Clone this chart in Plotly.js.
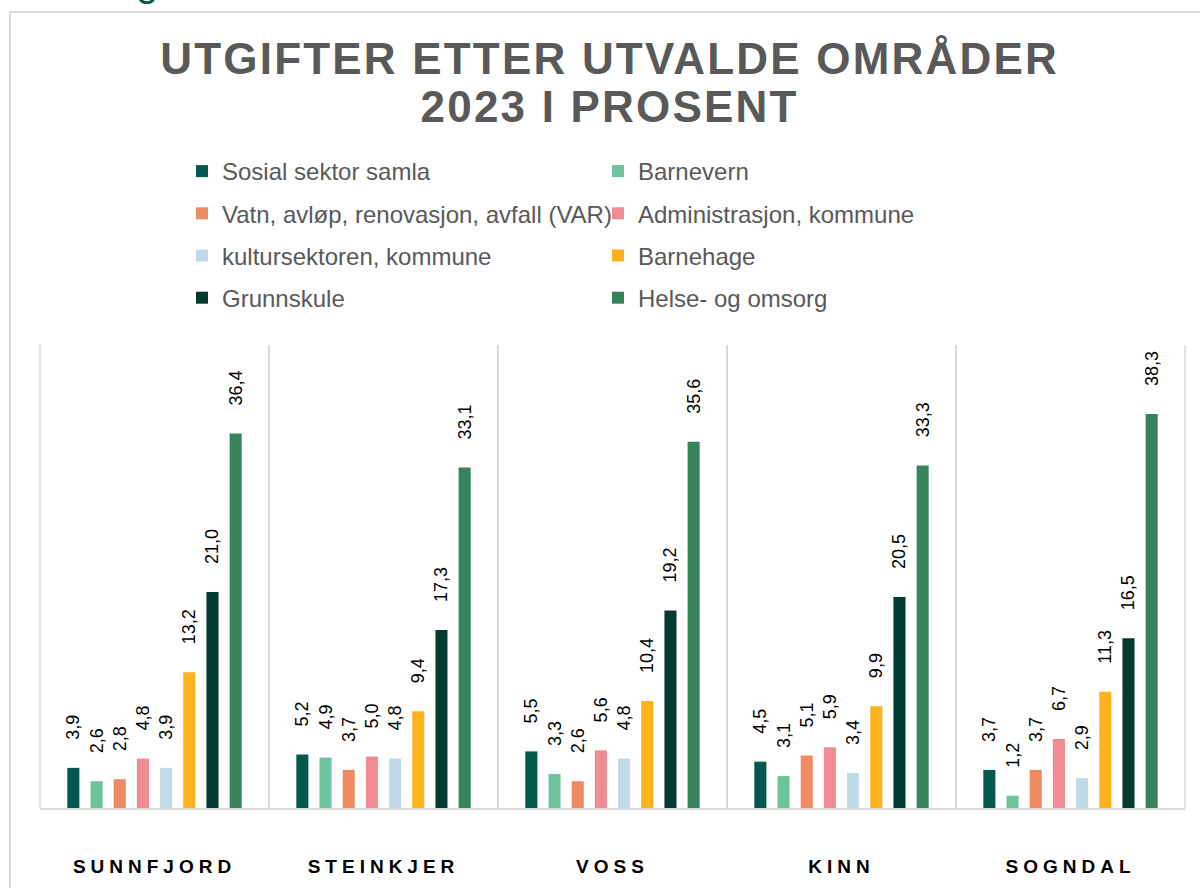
<!DOCTYPE html>
<html>
<head>
<meta charset="utf-8">
<script src="https://cdn.plot.ly/plotly-3.0.1.min.js"></script>
<style>
  html, body { margin: 0; padding: 0; background: #ffffff; overflow: hidden; width: 1200px; height: 888px; }
  #frame { position: absolute; left: 9px; top: 11px; width: 1260px; height: 1000px; border: 2px solid #d9d9d9; box-sizing: border-box; }
  #chart { position: absolute; left: 0; top: 0; width: 1200px; height: 888px; }
  .gtitle { letter-spacing: 2.2px; }
  .xtick text { letter-spacing: 5px; }
</style>
</head>
<body>
<div id="frame"></div>
<div id="chart"></div>
<script>
// ---- data ----
const categories = ["SUNNFJORD", "STEINKJER", "VOSS", "KINN", "SOGNDAL"];
const seriesNames = [
  "Sosial sektor samla",
  "Barnevern",
  "Vatn, avløp, renovasjon, avfall (VAR)",
  "Administrasjon, kommune",
  "kultursektoren, kommune",
  "Barnehage",
  "Grunnskule",
  "Helse- og omsorg"
];
const sosialSektor   = [3.9, 5.2, 5.5, 4.5, 3.7];
const barnevern      = [2.6, 4.9, 3.3, 3.1, 1.2];
const vatnVAR        = [2.8, 3.7, 2.6, 5.1, 3.7];
const administrasjon = [4.8, 5.0, 5.6, 5.9, 6.7];
const kultursektoren = [3.9, 4.8, 4.8, 3.4, 2.9];
const barnehage      = [13.2, 9.4, 10.4, 9.9, 11.3];
const grunnskule     = [21.0, 17.3, 19.2, 20.5, 16.5];
const helseOmsorg    = [36.4, 33.1, 35.6, 33.3, 38.3];
const seriesValues = [sosialSektor, barnevern, vatnVAR, administrasjon, kultursektoren, barnehage, grunnskule, helseOmsorg];
const chartTitle = "UTGIFTER ETTER UTVALDE OMRÅDER<br>2023 I PROSENT";

// ---- styles ----
const colors = ["#00594c", "#6dc39b", "#ef8a62", "#f08b94", "#c0dae8", "#fdb21e", "#003a31", "#37835c"];
const NB = "\u00A0";
const gapPrefix = NB + NB + NB + NB + NB;

const traces = seriesNames.map((name, i) => ({
  type: "bar",
  name: name,
  x: categories,
  y: seriesValues[i],
  marker: { color: colors[i], line: { width: 0 } },
  texttemplate: gapPrefix + "%{y:.1f}",
  textposition: "outside",
  textangle: -90,
  constraintext: "none",
  cliponaxis: false,
  textfont: { family: "Liberation Sans, Arial, sans-serif", size: 18, color: "#000000" },
  legend: (i % 2 === 0) ? "legend" : "legend2",
  legendgroup: name,
  hoverinfo: "none"
}));

const legendCommon = {
  orientation: "v",
  traceorder: "grouped",
  tracegroupgap: 8,
  itemwidth: 30,
  font: { family: "Liberation Sans, Arial, sans-serif", size: 24, color: "#595959" },
  bgcolor: "rgba(0,0,0,0)",
  xref: "container",
  yref: "container",
  xanchor: "left",
  yanchor: "top",
  itemclick: false,
  itemdoubleclick: false
};

const layout = {
  width: 1200,
  height: 888,
  paper_bgcolor: "rgba(0,0,0,0)",
  plot_bgcolor: "rgba(0,0,0,0)",
  separators: ",.",
  margin: { l: 40, r: 15, t: 345, b: 80, autoexpand: false },
  barmode: "group",
  bargap: 0.19,
  bargroupgap: 0.48,
  title: {
    text: chartTitle,
    font: { family: "Liberation Sans, Arial, sans-serif", size: 44, color: "#595959", weight: "bold" },
    xref: "container", yref: "container",
    x: 0.508, xanchor: "center",
    y: 0.9167, yanchor: "top"
  },
  showlegend: true,
  legend: Object.assign({}, legendCommon, { x: 182 / 1200, y: 1 - 149 / 888 }),
  legend2: Object.assign({}, legendCommon, { x: 598 / 1200, y: 1 - 149 / 888 }),
  xaxis: {
    type: "category",
    tickson: "boundaries",
    showgrid: true,
    gridcolor: "#d9d9d9",
    gridwidth: 1.5,
    showline: true,
    linecolor: "#d9d9d9",
    linewidth: 2,
    ticks: "",
    ticklabelstandoff: 40,
    tickfont: { family: "Liberation Sans, Arial, sans-serif", size: 19, color: "#000000", weight: "bold" },
    fixedrange: true
  },
  yaxis: {
    range: [0, 45],
    showgrid: false,
    zeroline: false,
    showline: false,
    showticklabels: false,
    ticks: "",
    fixedrange: true
  },
  shapes: [
    { type: "line", xref: "paper", yref: "paper", x0: 0, x1: 0, y0: 0, y1: 1, line: { color: "#d9d9d9", width: 1.5 }, layer: "below" },
    { type: "line", xref: "paper", yref: "paper", x0: 1, x1: 1, y0: 0, y1: 1, line: { color: "#d9d9d9", width: 1.5 }, layer: "below" }
  ],
  annotations: [{
    text: "g",
    xref: "paper", yref: "paper",
    x: (147 - 40) / 1145, y: (808 - 6) / 463,
    xanchor: "center", yanchor: "bottom",
    showarrow: false,
    font: { family: "Liberation Sans, Arial, sans-serif", size: 40, color: "#00594c" }
  }],
  hovermode: false
};

Plotly.newPlot("chart", traces, layout, { displayModeBar: false, responsive: false }).then(function () {
  // tighten the title's line spacing to match the reference
  document.querySelectorAll(".gtitle tspan.line").forEach(function (t, i) {
    if (i > 0) t.setAttribute("dy", "1.09em");
  });
});
</script>
</body>
</html>
